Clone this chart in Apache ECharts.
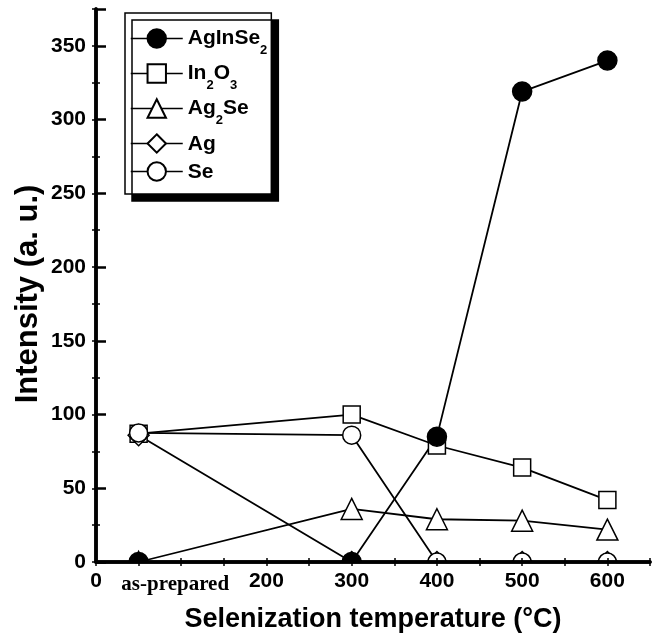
<!DOCTYPE html>
<html>
<head>
<meta charset="utf-8">
<script src="https://cdn.jsdelivr.net/npm/echarts@6/dist/echarts.min.js"></script>
<style>
  html, body { margin: 0; padding: 0; background: #fff; }
  #main { width: 660px; height: 642px; }
</style>
</head>
<body>
<div id="main"></div>
<script>
// selenization temperature (as-prepared is drawn at 50)
var temps = [50, 300, 400, 500, 600];
// intensity of each phase
var agInSe2 = [0, 0, 85, 319, 340];
var in2O3 = [87, 100, 79, 64, 42];
var ag2Se = [0, 36, 29, 28, 22];
var ag = [86, 0, 0, 0, 0];
var se = [87.5, 86, 0, 0, 0];

var legendNames = ['AgInSe2', 'In2O3', 'Ag2Se', 'Ag', 'Se'];
var legendRich = {
    'AgInSe2': '{m|AgInSe}{sub|2}',
    'In2O3': '{m|In}{sub|2}{m|O}{sub|3}',
    'Ag2Se': '{m|Ag}{sub|2}{m|Se}',
    'Ag': '{ag|Ag}',
    'Se': '{ag|Se}'
};

function pairs(vals) {
    return temps.map(function (t, i) { return [t, vals[i]]; });
}

var font = 'Liberation Sans, Arial, sans-serif';

function makeSeries(name, vals, symbol, size, fill) {
    return {
        name: name,
        type: 'line',
        data: pairs(vals),
        symbol: symbol,
        symbolSize: size,
        showAllSymbol: true,
        lineStyle: { color: '#000', width: 1.8 },
        itemStyle: { color: fill, borderColor: '#000', borderWidth: 1.5 },
        emphasis: { disabled: true }
    };
}

var myChart = echarts.init(document.getElementById('main'));
var option = {
    animation: false,
    backgroundColor: '#fff',
    grid: { left: 96, right: 10, top: 9, bottom: 80 },
    legend: {
        data: legendNames,
        orient: 'vertical',
        left: 125,
        top: 13,
        itemWidth: 52,
        itemHeight: 23,
        itemGap: 6,
        padding: [15, 4, 11, 5],
        selectedMode: false,
        backgroundColor: '#fff',
        borderColor: '#000',
        borderWidth: 1.5,
        shadowColor: '#000',
        shadowBlur: 0,
        shadowOffsetX: 7,
        shadowOffsetY: 7,
        lineStyle: { color: '#000', width: 1.5 },
        formatter: function (name) { return legendRich[name]; },
        textStyle: {
            fontFamily: font,
            fontSize: 21,
            fontWeight: 'bold',
            color: '#000',
            rich: {
                m: { fontFamily: font, fontSize: 21, fontWeight: 'bold', color: '#000', lineHeight: 21, verticalAlign: 'top' },
                sub: { fontFamily: font, fontSize: 13, fontWeight: 'bold', color: '#000', lineHeight: 13, verticalAlign: 'top', padding: [16, 0, 0, 0] },
                ag: { fontFamily: font, fontSize: 21, fontWeight: 'bold', color: '#000', lineHeight: 21, verticalAlign: 'top', padding: [1, 0, 0, 0] }
            }
        }
    },
    graphic: [{
        type: 'rect',
        left: 0,
        top: 563,
        z: 50,
        shape: { width: 660, height: 79 },
        style: { fill: '#fff' }
    }],
    xAxis: [{
        type: 'value',
        position: 'bottom',
        min: 0,
        max: 650,
        interval: 50,
        z: 60,
        name: 'Selenization temperature (°C)',
        nameLocation: 'middle',
        nameGap: 44,
        nameTextStyle: { fontFamily: font, fontSize: 27, fontWeight: 'bold', color: '#000' },
        axisLine: { lineStyle: { color: '#000', width: 3.5 } },
        axisTick: { inside: true, length: 4, lineStyle: { color: '#000', width: 1.5 } },
        splitLine: { show: false },
        axisLabel: {
            margin: 9,
            fontFamily: font,
            fontSize: 21,
            fontWeight: 'bold',
            color: '#000',
            formatter: function (v) {
                if (v === 100) return '{s|as-prepared}';
                return v % 100 === 0 && v <= 600 ? String(v) : '';
            },
            rich: {
                s: { fontFamily: 'Liberation Serif, Times New Roman, serif', fontSize: 21, fontWeight: 'bold', color: '#000', padding: [3, 12, 0, 0] }
            }
        }
    }, {
        type: 'value',
        position: 'top',
        min: 0,
        max: 650,
        interval: 50,
        z: 60,
        axisLine: { lineStyle: { color: '#000', width: 3.5 } },
        axisTick: { inside: true, length: 4, lineStyle: { color: '#000', width: 1.5 } },
        axisLabel: { show: false },
        splitLine: { show: false }
    }],
    yAxis: [{
        type: 'value',
        position: 'left',
        min: 0,
        max: 375,
        interval: 50,
        z: 60,
        name: 'Intensity (a. u.)',
        nameLocation: 'middle',
        nameGap: 52,
        nameMoveOverlap: false,
        nameTextStyle: { fontFamily: font, fontSize: 31, fontWeight: 'bold', color: '#000', padding: [0, 17, 0, 0] },
        axisLine: { lineStyle: { color: '#000', width: 3.5 } },
        axisTick: { inside: true, length: 10, lineStyle: { color: '#000', width: 2.5 } },
        minorTick: { show: true, splitNumber: 2, length: 4, lineStyle: { color: '#000', width: 1.5 } },
        splitLine: { show: false },
        axisLabel: {
            margin: 10,
            fontFamily: font,
            fontSize: 21,
            fontWeight: 'bold',
            color: '#000',
            formatter: function (v) { return v % 50 === 0 ? String(v) : ''; }
        }
    }, {
        type: 'value',
        position: 'right',
        min: 0,
        max: 375,
        interval: 50,
        z: 60,
        axisLine: { lineStyle: { color: '#000', width: 3.5 } },
        axisTick: { inside: true, length: 4, lineStyle: { color: '#000', width: 1.5 } },
        minorTick: { show: true, splitNumber: 2, length: 4, lineStyle: { color: '#000', width: 1.5 } },
        axisLabel: { show: false },
        splitLine: { show: false }
    }],
    series: [
        makeSeries('In2O3', in2O3, 'rect', 17, '#fff'),
        makeSeries('Ag2Se', ag2Se, 'triangle', 21, '#fff'),
        makeSeries('Ag', ag, 'diamond', 21, '#fff'),
        makeSeries('Se', se, 'circle', 18, '#fff'),
        makeSeries('AgInSe2', agInSe2, 'circle', 19, '#000')
    ]
};
myChart.setOption(option);
</script>
</body>
</html>
